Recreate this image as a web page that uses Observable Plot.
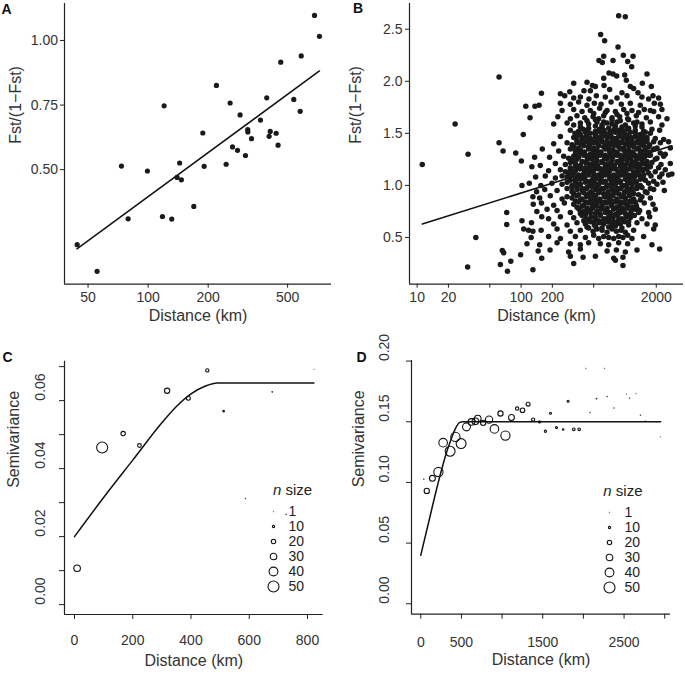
<!DOCTYPE html>
<html><head><meta charset="utf-8">
<script src="https://cdn.jsdelivr.net/npm/d3@7"></script>
<script src="https://cdn.jsdelivr.net/npm/@observablehq/plot@0.6"></script>
<style>
body{margin:0;background:#fff;}
#wrap{position:relative;width:685px;height:675px;font-family:"Liberation Sans",Arial,Helvetica,sans-serif;color:#222;overflow:hidden;}
.letter{position:absolute;font-weight:bold;font-size:14px;line-height:14px;color:#111;}
.legtitle{position:absolute;font-size:15px;line-height:18px;color:#222;white-space:nowrap;}
</style></head><body><div id="wrap"></div>
<script>
// ---------- Panel A data ----------
const aDistance = [44.1, 55.5, 73.5, 79.4, 99.2, 118, 120.3, 131.3, 139.7, 143.9, 146.8, 169.4, 187.9, 190.9, 219.9, 246, 257.6, 264.7, 280.5, 289, 307.5, 315.6, 316, 329.6, 365.7, 393, 404, 409, 438, 448, 462, 537, 578, 585, 682, 722];
const aFst = [0.210, 0.107, 0.514, 0.310, 0.495, 0.319, 0.747, 0.309, 0.470, 0.526, 0.461, 0.358, 0.642, 0.513, 0.826, 0.521, 0.758, 0.588, 0.575, 0.712, 0.555, 0.655, 0.646, 0.620, 0.692, 0.778, 0.629, 0.648, 0.641, 0.595, 0.916, 0.772, 0.726, 0.940, 1.097, 1.016];
const aFitDistance = [44, 722];
const aFitFst = [0.194, 0.882];
const aXTicks = [50, 100, 200, 500];
const aYTicks = [0.50, 0.75, 1.00];

// ---------- Panel B data (distance km, Fst/(1-Fst)) ----------
const bPoints = [
[11.2,1.20],[23.2,1.59],[30.9,1.30],[30.6,0.215],[36.7,0.50],[61.4,2.04],[61.4,1.41],[67.1,1.33],[72.8,0.74],[72.8,0.625],[74,0.176],[63.2,0.24],[66,0.375],[68,0.353],[79.6,0.272],[88.9,1.31],[100.7,1.234],[99,0.333],[130,0.189],
[869,2.63],[1007,2.62],[583,2.45],[637,2.39],[857,2.33],[562,2.20],[605,2.18],[624,2.24],[767,2.20],[964,2.25],[1061,2.19],[1195,2.24],[1159,2.14],[702,2.08],[1629,2.07],[832,2.05],[993,2.06],[624,2.03],[767,2.07],[1791,1.95],[321,1.98],[431,1.99],[486,1.96],[519,1.95],[628,1.96],[1030,2.01],[1125,1.95],[1469,1.98],[157,1.885],[239,1.88],[294,1.90],[403,1.91],[464,1.91],[712,1.92],[935,1.89],[1211,1.93],[1334,1.89],
[263,1.86],[321,1.84],[372,1.85],[450,1.83],[530,1.86],[647,1.85],[838,1.84],[1045,1.86],[1456,1.85],[1688,1.83],[1860,1.86],[2106,1.84],
[111,1.76],[136,1.76],[149,1.77],[239,1.79],[298,1.78],[358,1.80],[431,1.77],[507,1.79],[588,1.78],[734,1.80],[922,1.78],[1125,1.79],[1404,1.77],[1915,1.79],[2188,1.78],
[248,1.72],[321,1.73],[386,1.71],[464,1.72],[570,1.74],[672,1.72],[808,1.71],[971,1.73],[1167,1.72],[1352,1.70],[1533,1.73],[1754,1.72],[1888,1.71],[2267,1.73],
[500,1.69],[647,1.70],[838,1.68],[1045,1.69],
[122,1.65],[226,1.66],[298,1.64],[345,1.67],[410,1.65],[493,1.66],[558,1.64],[624,1.67],[750,1.65],[889,1.66],[1061,1.64],[1285,1.67],[1604,1.65],[2106,1.66],[2535,1.64],
[431,1.62],[519,1.63],[624,1.61],[750,1.63],[902,1.62],[1084,1.63],[1304,1.61],
[206,1.59],[277,1.60],[321,1.58],[372,1.60],[447,1.59],[538,1.61],[601,1.58],[672,1.60],[750,1.59],[838,1.61],[1007,1.58],[1211,1.60],[1456,1.59],[1754,1.61],[2267,1.58],
[372,1.56],[447,1.55],[519,1.57],[601,1.56],[697,1.55],[808,1.57],[935,1.56],[1084,1.55],[1256,1.57],[1456,1.56],
[105,1.49],[298,1.53],[358,1.52],[395,1.54],[431,1.53],[519,1.52],[570,1.54],[624,1.53],[723,1.52],[790,1.54],[869,1.53],[956,1.52],[1045,1.54],[1256,1.53],[1511,1.52],[1817,1.54],[2155,1.53],
[330,1.50],[372,1.49],[416,1.51],[464,1.50],[519,1.49],[579,1.51],[647,1.50],[723,1.49],[808,1.51],[902,1.50],[1007,1.49],[1125,1.51],[1256,1.50],[1404,1.49],[1568,1.51],[1754,1.50],
[239,1.47],[321,1.46],[350,1.48],[386,1.46],[425,1.47],[464,1.45],[519,1.47],[570,1.46],[624,1.48],[672,1.46],[734,1.47],[790,1.45],[869,1.47],[956,1.46],[1045,1.48],[1142,1.46],[1256,1.47],[1352,1.45],[1489,1.47],[1629,1.46],[1956,1.45],[2355,1.44],
[345,1.43],[386,1.44],[431,1.42],[482,1.43],[538,1.44],[601,1.43],[672,1.42],[750,1.44],[838,1.43],[935,1.42],[1045,1.44],[1167,1.43],[1304,1.42],[1456,1.44],[1629,1.43],[1888,1.42],
[206,1.40],[277,1.41],[309,1.39],[345,1.41],[377,1.40],[416,1.42],[457,1.39],[500,1.41],[546,1.40],[601,1.42],[657,1.39],[712,1.40],[779,1.41],[838,1.39],[922,1.41],[1007,1.40],[1108,1.42],[1211,1.39],[1323,1.41],[1425,1.40],[1568,1.42],[1727,1.39],[2188,1.41],[2627,1.42],
[321,1.37],[358,1.36],[401,1.38],[447,1.37],[500,1.36],[558,1.38],[624,1.37],[697,1.36],[779,1.38],[869,1.37],[971,1.36],[1084,1.38],[1211,1.37],[1352,1.36],[1511,1.38],[1688,1.37],[2032,1.36],
[160,1.35],[230,1.33],[298,1.35],[333,1.33],[372,1.34],[407,1.32],[447,1.35],[493,1.33],[538,1.34],[588,1.32],[647,1.35],[707,1.33],[767,1.34],[838,1.32],[915,1.35],[992,1.33],[1084,1.34],[1193,1.32],[1304,1.35],[1425,1.33],[1568,1.34],[1727,1.32],[1888,1.35],[2441,1.30],[2729,1.36],
[333,1.30],[372,1.31],[416,1.29],[464,1.30],[519,1.31],[579,1.30],[647,1.29],[723,1.31],[808,1.30],[902,1.29],[1007,1.31],[1125,1.30],[1256,1.29],[1404,1.31],[1568,1.30],[1754,1.29],[2188,1.31],
[135,1.27],[188,1.27],[257,1.28],[287,1.26],[321,1.28],[358,1.27],[401,1.29],[437,1.26],[482,1.28],[530,1.27],[579,1.29],[638,1.26],[697,1.28],[761,1.27],[838,1.29],[915,1.26],[1007,1.28],[1092,1.27],[1193,1.29],[1304,1.26],[1404,1.28],[1533,1.27],[1688,1.29],[2032,1.26],[2355,1.28],
[309,1.24],[345,1.25],[386,1.23],[431,1.24],[482,1.25],[538,1.24],[601,1.23],[672,1.25],[750,1.24],[838,1.23],[935,1.25],[1045,1.24],[1167,1.23],[1304,1.25],[1456,1.24],[1629,1.23],[1956,1.25],
[153,1.19],[214,1.21],[267,1.20],[298,1.22],[333,1.21],[372,1.19],[416,1.22],[457,1.20],[500,1.21],[546,1.19],[601,1.22],[657,1.20],[723,1.21],[790,1.19],[869,1.22],[949,1.20],[1045,1.21],[1142,1.19],[1256,1.22],[1372,1.20],[1511,1.21],[1652,1.19],[1817,1.22],[2220,1.20],[2729,1.21],
[298,1.17],[333,1.18],[372,1.16],[416,1.17],[464,1.18],[519,1.17],[579,1.16],[647,1.18],[723,1.17],[808,1.16],[902,1.18],[1007,1.17],[1125,1.16],[1256,1.18],[1404,1.17],[1568,1.16],[1754,1.18],[2106,1.17],
[127,1.18],[184,1.14],[239,1.15],[267,1.13],[298,1.15],[333,1.14],[366,1.16],[407,1.13],[447,1.15],[493,1.14],[538,1.16],[592,1.13],[647,1.15],[712,1.14],[779,1.16],[856,1.13],[935,1.15],[1022,1.14],[1125,1.16],[1229,1.13],[1352,1.15],[1489,1.14],[1629,1.16],[1956,1.13],[2441,1.15],
[287,1.11],[321,1.12],[358,1.10],[401,1.11],[447,1.12],[500,1.11],[558,1.10],[624,1.12],[697,1.11],[779,1.10],[869,1.12],[971,1.11],[1084,1.10],[1211,1.12],[1352,1.11],[1511,1.10],[1688,1.12],[2267,1.11],
[138,1.08],[171,1.09],[214,1.07],[248,1.09],[277,1.08],[305,1.10],[333,1.07],[366,1.09],[407,1.08],[447,1.10],[493,1.07],[538,1.09],[592,1.08],[647,1.10],[712,1.07],[779,1.09],[856,1.08],[935,1.10],[1030,1.07],[1125,1.09],[1229,1.08],[1352,1.10],[1489,1.07],[1779,1.09],[2155,1.08],[2627,1.10],[2828,1.11],
[298,1.05],[333,1.04],[372,1.06],[416,1.05],[464,1.04],[519,1.06],[579,1.05],[647,1.04],[723,1.06],[808,1.05],[902,1.04],[1007,1.06],[1125,1.05],[1256,1.04],[1404,1.06],[1568,1.05],[1888,1.04],
[102,1.00],[120,1.02],[155,1.00],[198,1.02],[248,1.01],[277,1.03],[309,1.00],[340,1.02],[372,1.01],[416,1.03],[457,1.00],[507,1.02],[558,1.01],[615,1.03],[672,1.00],[734,1.02],[808,1.01],[889,1.03],[971,1.00],[1061,1.02],[1167,1.01],[1285,1.03],[1404,1.00],[1688,1.02],[2032,1.01],[2320,1.03],
[309,0.98],[345,0.99],[386,0.97],[431,0.98],[482,0.99],[538,0.98],[601,0.97],[672,0.99],[750,0.98],[838,0.97],[935,0.99],[1045,0.98],[1167,0.97],[1304,0.99],[1456,0.98],[1754,0.97],
[141,0.94],[169,0.96],[222,0.95],[277,0.97],[309,0.94],[345,0.96],[386,0.95],[425,0.97],[471,0.94],[519,0.96],[570,0.95],[624,0.97],[687,0.94],[750,0.96],[826,0.95],[902,0.97],[985,0.94],[1084,0.96],[1193,0.95],[1304,0.97],[1568,0.94],[1888,0.96],[2390,0.95],
[321,0.92],[358,0.91],[401,0.93],[447,0.92],[500,0.91],[558,0.93],[624,0.92],[697,0.91],[779,0.93],[869,0.92],[971,0.91],[1084,0.93],[1211,0.92],[1352,0.91],[1629,0.93],
[130,0.89],[151,0.88],[191,0.90],[248,0.87],[277,0.89],[309,0.88],[345,0.90],[386,0.87],[425,0.89],[471,0.88],[519,0.90],[570,0.87],[633,0.89],[697,0.88],[767,0.90],[838,0.87],[922,0.89],[1007,0.88],[1108,0.90],[1211,0.87],[1456,0.89],[1754,0.88],
[333,0.85],[372,0.86],[416,0.84],[464,0.85],[519,0.86],[579,0.85],[647,0.84],[723,0.86],[808,0.85],[902,0.84],[1007,0.86],[1125,0.85],[1256,0.84],[1404,0.86],
[131,0.82],[157,0.83],[206,0.81],[261,0.83],[321,0.82],[358,0.84],[401,0.81],[447,0.83],[500,0.82],[546,0.84],[601,0.81],[662,0.83],[734,0.82],[808,0.84],[889,0.81],[971,0.83],[1061,0.82],[1167,0.84],[1285,0.81],[1533,0.83],[1860,0.82],
[345,0.79],[386,0.80],[431,0.78],[482,0.79],[538,0.80],[601,0.79],[672,0.78],[750,0.80],[838,0.79],[935,0.78],[1045,0.80],[1167,0.79],[1304,0.78],
[142,0.75],[178,0.77],[222,0.76],[298,0.74],[361,0.77],[401,0.75],[441,0.76],[489,0.78],[538,0.75],[588,0.77],[647,0.76],[712,0.74],[779,0.77],[869,0.75],[956,0.76],[1045,0.78],[1142,0.75],[1256,0.77],[1383,0.76],[1688,0.74],[1956,0.77],
[372,0.73],[416,0.72],[464,0.74],[519,0.73],[579,0.72],[647,0.74],[723,0.73],[808,0.72],[902,0.74],[1007,0.73],[1125,0.72],[1352,0.74],
[102,0.66],[158,0.70],[184,0.68],[239,0.70],[321,0.69],[386,0.71],[425,0.68],[471,0.70],[519,0.69],[579,0.71],[633,0.68],[697,0.70],[767,0.69],[850,0.71],[935,0.68],[1030,0.70],[1125,0.69],[1229,0.71],[1456,0.68],[1727,0.70],
[401,0.66],[447,0.67],[500,0.65],[558,0.66],[624,0.67],[697,0.66],[779,0.65],[869,0.67],[971,0.66],[1084,0.65],
[126,0.64],[206,0.63],[277,0.62],[345,0.64],[416,0.63],[464,0.65],[507,0.62],[566,0.64],[624,0.63],[687,0.65],[750,0.62],[826,0.64],[902,0.63],[992,0.65],[1084,0.62],[1304,0.64],[1629,0.63],[1956,0.62],
[431,0.60],[519,0.61],[601,0.59],[697,0.60],[808,0.61],[935,0.59],
[106,0.58],[118,0.57],[130,0.56],[156,0.57],[222,0.58],[298,0.56],[372,0.57],[447,0.59],[493,0.56],[538,0.58],[601,0.57],[672,0.55],[750,0.58],[826,0.56],[915,0.57],[1007,0.55],[1211,0.57],[1888,0.58],
[125,0.50],[184,0.51],[239,0.49],[333,0.51],[416,0.50],[500,0.52],[558,0.49],[624,0.51],[697,0.50],[779,0.49],[869,0.51],[956,0.50],[1061,0.52],[1167,0.49],[1511,0.51],
[114,0.44],[151,0.43],[222,0.45],[298,0.44],[372,0.43],[447,0.45],[579,0.44],[697,0.43],[869,0.45],[1061,0.44],[1817,0.43],
[146,0.37],[190,0.38],[287,0.36],[372,0.39],[672,0.37],[826,0.38],[1007,0.36],[1304,0.38],[2155,0.39],
[158,0.30],[298,0.32],[395,0.31],[519,0.32],[779,0.30],[956,0.31],
[321,0.25],[808,0.28],[956,0.23]
];
const bFitDistance = [11.2, 2830];
const bFitFst = [0.63, 1.38];
const bXTicks = [10, 20, 50, 100, 200, 500, 2000];
const bYTicks = [0.5, 1.0, 1.5, 2.0, 2.5];

// ---------- Panel C data ----------
const cDistance = [9, 95, 167, 223, 318, 391, 456, 512, 587, 679, 727, 822];
const cSemivariance = [0.0107, 0.0462, 0.0503, 0.0468, 0.0629, 0.0607, 0.0689, 0.0569, 0.0312, 0.0626, 0.0265, 0.0692];
const cN = [30, 50, 20, 17, 24, 18, 15, 7, 2, 3, 2, 1];
const cFitDistance = [0, 100, 200, 300, 350, 400, 450, 490, 822];
const cFitSemivariance = [0.0200, 0.0315, 0.0425, 0.0535, 0.0583, 0.0620, 0.0643, 0.0652, 0.0652];
const cXTicks = [0, 200, 400, 600, 800];
const cYTicks = [0, 0.01, 0.02, 0.03, 0.04, 0.05, 0.06, 0.07];
const cYLabels = [0, 0.02, 0.04, 0.06];

// ---------- Panel D data ----------
const dDistance = [37, 74, 143, 217, 275, 361, 426, 496, 562, 623, 672, 701, 767, 840, 906, 980, 1041, 1115, 1185, 1251, 1320, 1382, 1460, 1533, 1595, 1669, 1751, 1812, 1882, 1948, 2030, 2083, 2161, 2259, 2292, 2374, 2530, 2567, 2649, 2702, 2763, 2948];
const dSemivariance = [0.1026, 0.0930, 0.1034, 0.1086, 0.1328, 0.1257, 0.1375, 0.1320, 0.1458, 0.1499, 0.1504, 0.1526, 0.1491, 0.1518, 0.1441, 0.1568, 0.1386, 0.1535, 0.1609, 0.1595, 0.1645, 0.1518, 0.1499, 0.1422, 0.1570, 0.1452, 0.1436, 0.1669, 0.1438, 0.1438, 0.1939, 0.1576, 0.1691, 0.1939, 0.1708, 0.1614, 0.1727, 0.1694, 0.1733, 0.1554, 0.1507, 0.1375];
const dN = [2, 24, 27, 42, 39, 45, 42, 45, 36, 30, 30, 30, 24, 33, 39, 24, 42, 27, 15, 21, 18, 15, 9, 10, 9, 9, 7, 9, 12, 12, 1, 2, 3, 1, 2, 2, 1, 2, 1, 2, 1, 1];
const dFitDistance = [0, 100, 200, 300, 375, 430, 480, 520, 2950];
const dFitSemivariance = [0.040, 0.068, 0.096, 0.121, 0.136, 0.145, 0.1495, 0.150, 0.150];
const dXTicks = [0, 500, 1000, 1500, 2000, 2500, 3000];
const dXLabels = [0, 500, 1500, 2500];
const dYTicks = [0, 0.05, 0.10, 0.15, 0.20];

// ---------- legend ----------
const nLegend = [1, 10, 20, 30, 40, 50];

// ---------- build ----------
const FONT = "Liberation Sans, Arial, Helvetica, sans-serif";
const wrap = document.getElementById("wrap");
function place(el, left, top) {
  el.style.position = "absolute";
  el.style.left = left + "px";
  el.style.top = top + "px";
  wrap.appendChild(el);
}
function addDiv(cls, html, left, top) {
  const d = document.createElement("div");
  d.className = cls; d.innerHTML = html;
  d.style.left = left + "px"; d.style.top = top + "px";
  wrap.appendChild(d);
}
const baseStyle = {fontFamily: FONT, fontSize: "14px", color: "#333", background: "transparent", overflow: "visible"};
const AX = "#222";
const rScale = {type: "linear", domain: [0, 50], range: [0, 5.5]};

const aData = aDistance.map((d, i) => ({d, f: aFst[i]}));
const aFit = aFitDistance.map((d, i) => ({d, f: aFitFst[i]}));
const aXDom = [38.1, 829.7], aYDom = [0.057, 1.143];
const plotA = Plot.plot({
  width: 340, height: 330, marginLeft: 64, marginRight: 9, marginTop: 3, marginBottom: 46.3,
  style: baseStyle,
  x: {type: "log", domain: aXDom, label: null},
  y: {domain: aYDom, label: null},
  marks: [
    Plot.axisX({ticks: aXTicks, tickSize: 4, tickPadding: 4, tickFormat: d => String(d), label: null, stroke: AX}),
    Plot.axisY({ticks: aYTicks, tickSize: 4, tickPadding: 2.5, tickFormat: d => d.toFixed(2), label: null, stroke: AX}),
    Plot.ruleX([aXDom[0]], {stroke: AX, strokeWidth: 1.2}),
    Plot.ruleY([aYDom[0]], {stroke: AX, strokeWidth: 1.2}),
    Plot.dot(aData, {x: "d", y: "f", r: 2.6, fill: "#1a1a1a", stroke: "none"}),
    Plot.line(aFit, {x: "d", y: "f", stroke: "#111", strokeWidth: 1.5}),
    Plot.text(["Distance (km)"], {text: d => d, frameAnchor: "bottom", dy: 36.3, fontSize: 16, fill: "#333"}),
    Plot.text(["Fst/(1\u2212Fst)"], {text: d => d, frameAnchor: "left", dx: -49, rotate: -90, fontSize: 16, fill: "#333"})
  ]
});
place(plotA, 0, 0);

const bData = bPoints.map(([d, f]) => ({d, f}));
const bFit = bFitDistance.map((d, i) => ({d, f: bFitFst[i]}));
const bXDom = [8.44, 3656], bYDom = [0.051, 2.747];
const plotB = Plot.plot({
  width: 345, height: 330, marginLeft: 69, marginRight: 2, marginTop: 3, marginBottom: 46.3,
  style: baseStyle,
  x: {type: "log", domain: bXDom, label: null},
  y: {domain: bYDom, label: null},
  marks: [
    Plot.axisX({ticks: bXTicks, tickSize: 4, tickPadding: 4, tickFormat: d => String(d), label: null, stroke: AX}),
    Plot.axisY({ticks: bYTicks, tickSize: 4, tickPadding: 3, tickFormat: d => d.toFixed(1), label: null, stroke: AX}),
    Plot.ruleX([bXDom[0]], {stroke: AX, strokeWidth: 1.2}),
    Plot.ruleY([bYDom[0]], {stroke: AX, strokeWidth: 1.2}),
    Plot.line(bFit, {x: "d", y: "f", stroke: "#111", strokeWidth: 1.5}),
    Plot.dot(bData, {x: "d", y: "f", r: 2.75, fill: "#1a1a1a", stroke: "none"}),
    Plot.text(["Distance (km)"], {text: d => d, frameAnchor: "bottom", dy: 36.3, fontSize: 16, fill: "#333"}),
    Plot.text(["Fst/(1\u2212Fst)"], {text: d => d, frameAnchor: "left", dx: -54, rotate: -90, fontSize: 16, fill: "#333"})
  ]
});
place(plotB, 340, 0);

const cData = cDistance.map((d, i) => ({d, s: cSemivariance[i], n: cN[i]}));
const cFit = cFitDistance.map((d, i) => ({d, s: cFitSemivariance[i]}));
const cXDom = [-34.3, 853.9], cYDom = [-0.0029, 0.0716];
const plotC = Plot.plot({
  width: 340, height: 345, marginLeft: 64, marginRight: 17.3, marginTop: 30.7, marginBottom: 61,
  style: baseStyle,
  x: {domain: cXDom, label: null},
  y: {domain: cYDom, label: null},
  r: rScale,
  marks: [
    Plot.axisX({ticks: cXTicks, tickSize: 5, tickPadding: 16, tickFormat: d => String(d), label: null, stroke: AX}),
    Plot.axisY({ticks: cYTicks, tickSize: 5, tickFormat: () => "", label: null, stroke: AX}),
    Plot.text(cYLabels, {y: d => d, text: d => d.toFixed(2), frameAnchor: "left", dx: -24, rotate: -90, fill: "#333"}),
    Plot.ruleX([cXDom[0]], {stroke: AX, strokeWidth: 1.2}),
    Plot.ruleY([cYDom[0]], {stroke: AX, strokeWidth: 1.2}),
    Plot.line(cFit, {x: "d", y: "s", stroke: "#111", strokeWidth: 1.5, curve: "monotone-x"}),
    Plot.dot(cData, {x: "d", y: "s", r: "n", fill: "none", stroke: "#111", strokeWidth: 1.1}),
    Plot.text(["Distance (km)"], {text: d => d, frameAnchor: "bottom", dy: 51, fontSize: 16, fill: "#333"}),
    Plot.text(["Semivariance"], {text: d => d, frameAnchor: "left", dx: -50.7, rotate: -90, fontSize: 16, fill: "#333"})
  ]
});
place(plotC, 0, 330);

const dData = dDistance.map((d, i) => ({d, s: dSemivariance[i], n: dN[i]}));
const dFit = dFitDistance.map((d, i) => ({d, s: dFitSemivariance[i]}));
const dXDom = [-114, 3071], dYDom = [-0.0086, 0.2005];
const plotD = Plot.plot({
  width: 345, height: 345, marginLeft: 71, marginRight: 15, marginTop: 30, marginBottom: 61.3,
  style: baseStyle,
  x: {domain: dXDom, label: null},
  y: {domain: dYDom, label: null},
  r: rScale,
  marks: [
    Plot.axisX({ticks: dXTicks, tickSize: 5, tickPadding: 18, tickFormat: d => dXLabels.includes(d) ? String(d) : "", label: null, stroke: AX}),
    Plot.axisY({ticks: dYTicks, tickSize: 5, tickFormat: () => "", label: null, stroke: AX}),
    Plot.text(dYTicks, {y: d => d, text: d => d.toFixed(2), frameAnchor: "left", dx: -26.7, rotate: -90, fill: "#333"}),
    Plot.ruleX([dXDom[0]], {stroke: AX, strokeWidth: 1.2}),
    Plot.ruleY([dYDom[0]], {stroke: AX, strokeWidth: 1.2}),
    Plot.line(dFit, {x: "d", y: "s", stroke: "#111", strokeWidth: 1.5, curve: "monotone-x"}),
    Plot.dot(dData, {x: "d", y: "s", r: "n", fill: "none", stroke: "#111", strokeWidth: 1.1}),
    Plot.text(["Distance (km)"], {text: d => d, frameAnchor: "bottom", dy: 51, fontSize: 16, fill: "#333"}),
    Plot.text(["Semivariance"], {text: d => d, frameAnchor: "left", dx: -52.7, rotate: -90, fontSize: 16, fill: "#333"})
  ]
});
place(plotD, 340, 330);

function legend() {
  return Plot.plot({
    width: 50, height: 94.2, margin: 0,
    style: {fontFamily: FONT, fontSize: "14px", color: "#222", background: "transparent", overflow: "visible"},
    x: {axis: null},
    y: {type: "point", domain: nLegend, padding: 0.5, axis: null},
    r: rScale,
    marks: [
      Plot.dot(nLegend, {y: d => d, r: d => d, frameAnchor: "left", dx: 6, fill: "none", stroke: "#111", strokeWidth: 1.1}),
      Plot.text(nLegend, {y: d => d, text: d => String(d), frameAnchor: "left", dx: 21, textAnchor: "start", fill: "#222"})
    ]
  });
}
place(legend(), 267.3, 501.2);
place(legend(), 603, 501.5);
addDiv("legtitle", "<i>n</i> size", 273, 481);
addDiv("legtitle", "<i>n</i> size", 603.3, 482);

addDiv("letter", "A", 1.5, 1.5);
addDiv("letter", "B", 353, 1);
addDiv("letter", "C", 2.5, 350);
addDiv("letter", "D", 356.5, 350);
</script></body></html>
